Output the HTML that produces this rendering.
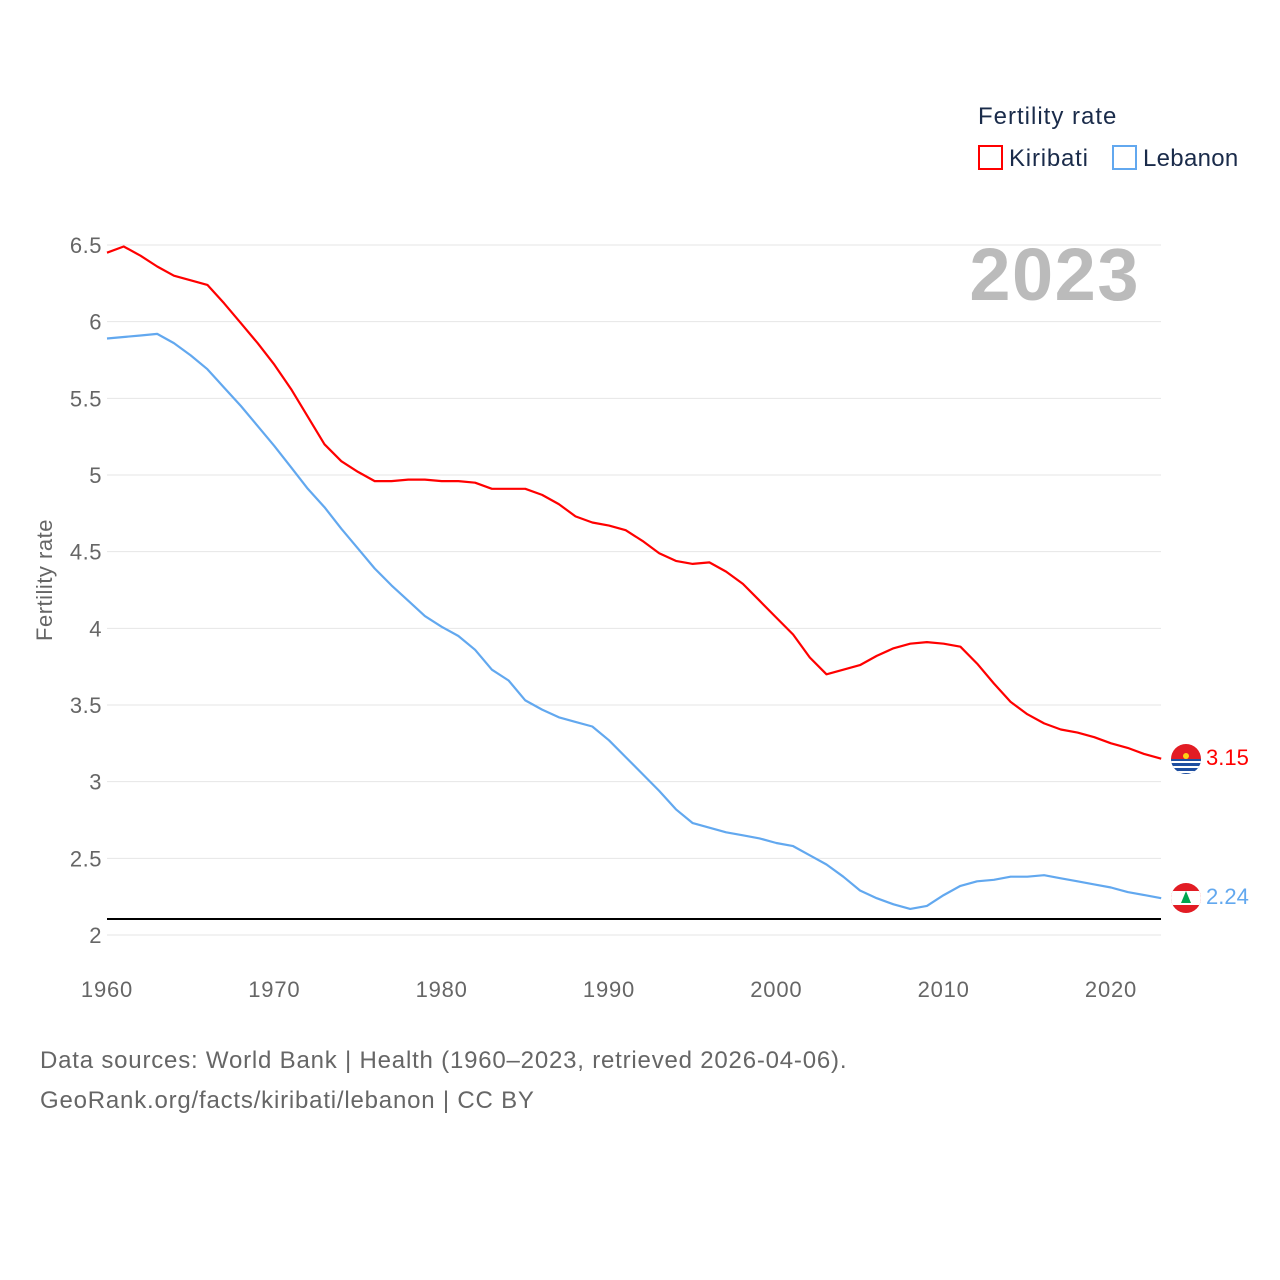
<!DOCTYPE html>
<html><head><meta charset="utf-8">
<style>
body{margin:0;background:#fff;}
svg{display:block;font-family:"Liberation Sans",sans-serif;}
</style></head>
<body>
<svg id="chart" width="1280" height="1280" viewBox="0 0 1280 1280">
<g id="grid"></g>
<g id="yticks"></g>
<g id="xticks"></g>
<text x="52" y="580" transform="rotate(-90 52 580)" text-anchor="middle" font-size="22" fill="#666" letter-spacing="0.5">Fertility rate</text>
<text x="1140" y="300" text-anchor="end" font-size="74" font-weight="bold" fill="#bbb" letter-spacing="1.5">2023</text>
<g>
<text x="978" y="124" font-size="24" fill="#1a2b4a" letter-spacing="1">Fertility rate</text>
<g><rect x="979" y="146" width="23" height="23" fill="none" stroke="#f00" stroke-width="2"/><text x="1009" y="166" font-size="24" fill="#1a2b4a" letter-spacing="0.8">Kiribati</text></g>
<g><rect x="1113" y="146" width="23" height="23" fill="none" stroke="#62a8ef" stroke-width="2"/><text x="1143" y="166" font-size="24" fill="#1a2b4a" letter-spacing="0.3">Lebanon</text></g>
</g>
<line x1="107" x2="1161" y1="919" y2="919" stroke="#000" stroke-width="2"/>
<g id="series"></g>
<g>
<g>
<clipPath id="c1"><circle cx="1186" cy="759" r="15"/></clipPath>
<g clip-path="url(#c1)"><rect x="1170" y="743" width="32" height="16" fill="#e21c24"/><rect x="1170" y="759" width="32" height="16" fill="#1e4ea0"/><path d="M1170 762h32M1170 767h32M1170 772h32" stroke="#fff" stroke-width="2"/><circle cx="1186" cy="756" r="3" fill="#fcd116"/></g>
</g>
<text x="1206" y="765" font-size="22" fill="#f00">3.15</text>
<g>
<clipPath id="c2"><circle cx="1186" cy="898" r="15"/></clipPath>
<g clip-path="url(#c2)"><rect x="1170" y="882" width="32" height="32" fill="#e21c24"/><rect x="1170" y="891" width="32" height="14" fill="#fff"/><path d="M1186 891l5 12h-10z" fill="#00a650"/></g>
</g>
<text x="1206" y="904" font-size="22" fill="#62a8ef">2.24</text>
</g>
<text x="40" y="1068" font-size="24" fill="#666" letter-spacing="0.8">Data sources: World Bank | Health (1960–2023, retrieved 2026-04-06).</text>
<text x="40" y="1108" font-size="24" fill="#666" letter-spacing="0.8">GeoRank.org/facts/kiribati/lebanon | CC BY</text>
</svg>
<script>
const years=[];for(let y=1960;y<=2023;y++)years.push(y);
const kiribati=[6.45,6.49,6.43,6.36,6.30,6.27,6.24,6.12,5.99,5.86,5.72,5.56,5.38,5.20,5.09,5.02,4.96,4.96,4.97,4.97,4.96,4.96,4.95,4.91,4.91,4.91,4.87,4.81,4.73,4.69,4.67,4.64,4.57,4.49,4.44,4.42,4.43,4.37,4.29,4.18,4.07,3.96,3.81,3.70,3.73,3.76,3.82,3.87,3.90,3.91,3.90,3.88,3.77,3.64,3.52,3.44,3.38,3.34,3.32,3.29,3.25,3.22,3.18,3.15];
const lebanon=[5.89,5.90,5.91,5.92,5.86,5.78,5.69,5.57,5.45,5.32,5.19,5.05,4.91,4.79,4.65,4.52,4.39,4.28,4.18,4.08,4.01,3.95,3.86,3.73,3.66,3.53,3.47,3.42,3.39,3.36,3.27,3.16,3.05,2.94,2.82,2.73,2.70,2.67,2.65,2.63,2.60,2.58,2.52,2.46,2.38,2.29,2.24,2.20,2.17,2.19,2.26,2.32,2.35,2.36,2.38,2.38,2.39,2.37,2.35,2.33,2.31,2.28,2.26,2.24];
const yTicks=[2,2.5,3,3.5,4,4.5,5,5.5,6,6.5];
const xTicks=[1960,1970,1980,1990,2000,2010,2020];
const NS="http://www.w3.org/2000/svg";
function xs(v){return 107+(v-1960)*(1111-107)/60;}
function ys(v){return 935-(v-2)*(690/4.5);}
function mk(t,a,p){const e=document.createElementNS(NS,t);for(const k in a)e.setAttribute(k,a[k]);p.appendChild(e);return e;}
const grid=document.getElementById('grid'),yt=document.getElementById('yticks'),xt=document.getElementById('xticks'),ser=document.getElementById('series');
yTicks.forEach(v=>{
 const l=mk('line',{x1:107,x2:1161,y1:ys(v),y2:ys(v),stroke:'#e6e6e6','stroke-width':1},grid);
 
 
 const t=mk('text',{x:102,y:ys(v)+8,'text-anchor':'end','font-size':22,fill:'#666','letter-spacing':0.5},yt);
 t.textContent=v;
 
 
});
xTicks.forEach(v=>{
 const t=mk('text',{x:xs(v),y:997,'text-anchor':'middle','font-size':22,fill:'#666','letter-spacing':0.8},xt);
 t.textContent=v;
 
 
});
function line(data,color,name){
 const d=data.map((v,i)=>(i?'L':'M')+xs(years[i]).toFixed(1)+' '+ys(v).toFixed(1)).join('');
 const p=mk('path',{d:d,fill:'none',stroke:color,'stroke-width':2.2,'stroke-linejoin':'round'},ser);
 
 
}
line(kiribati,'#f00','kiribati-line');
line(lebanon,'#62a8ef','lebanon-line');
</script>
</body></html>
